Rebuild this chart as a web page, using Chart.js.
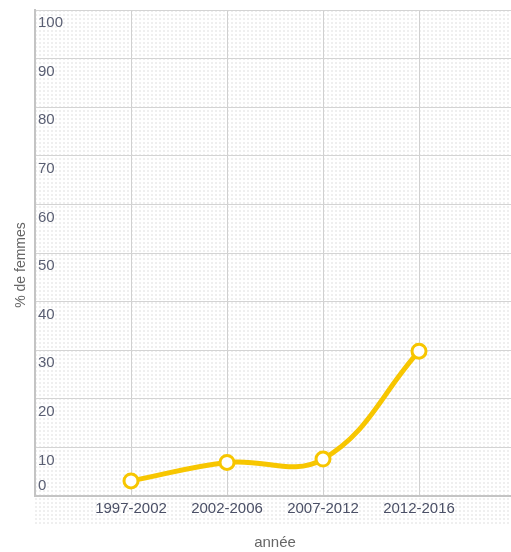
<!DOCTYPE html>
<html><head><meta charset="utf-8">
<script src="https://cdn.jsdelivr.net/npm/chart.js@4/dist/chart.umd.min.js"></script>
<style>html,body{margin:0;padding:0;background:#fff;overflow:hidden;width:511px;height:552px}#w{width:525px;height:552px}</style>
</head><body><div id="w"><canvas id="c"></canvas></div>
<script>
const categories = ['1997-2002', '2002-2006', '2007-2012', '2012-2016'];
const values = [3.1, 6.9, 7.6, 29.8];
const yTicks = [0, 10, 20, 30, 40, 50, 60, 70, 80, 90, 100];
const yTitle = '% de femmes';
const xTitle = 'année';

const FONT = "'Liberation Sans', sans-serif";

const deco = {
  id: 'deco',
  beforeDraw(chart) {
    const {ctx, chartArea: a} = chart;
    ctx.save();
    ctx.fillStyle = '#efefef';
    for (let x = a.left; x < chart.width; x += 4) {
      for (let y = a.top; y < a.bottom + 30; y += 4) {
        ctx.fillRect(x, y, 2, 2);
      }
    }
    ctx.restore();
  },
  afterDraw(chart) {
    const {ctx, chartArea: a} = chart;
    const ys = chart.scales.y;
    ctx.save();
    ctx.font = "15px " + FONT;
    ctx.fillStyle = '#5a5f73';
    ctx.textAlign = 'left';
    ctx.textBaseline = 'middle';
    yTicks.forEach(v => {
      const py = ys.getPixelForValue(v);
      const off = v === 0 ? -10 : 13;
      ctx.fillText(String(v), a.left + 3, py + off);
    });
    ctx.translate(21, 265);
    ctx.rotate(-Math.PI / 2);
    ctx.textAlign = 'center';
    ctx.font = "14px " + FONT;
    ctx.fillStyle = '#666';
    ctx.fillText(yTitle, 0, 0);
    ctx.restore();
  }
};

new Chart(document.getElementById('c'), {
  type: 'line',
  data: {
    datasets: [{
      data: values.map((v, i) => ({x: i + 1, y: v})),
      borderColor: '#f7c600',
      borderWidth: 5,
      tension: 0.4,
      pointRadius: 7,
      pointBorderWidth: 3,
      pointBackgroundColor: '#ffffff',
      pointBorderColor: '#f7c600',
      fill: false
    }]
  },
  options: {
    responsive: true,
    maintainAspectRatio: false,
    animation: false,
    layout: {padding: {left: 35, top: 8, right: 9, bottom: 0}},
    plugins: {legend: {display: false}, tooltip: {enabled: false}},
    scales: {
      x: {
        type: 'linear', min: 0, max: 5,
        afterBuildTicks(s) { s.ticks = [0, 1, 2, 3, 4, 5].map(v => ({value: v})); },
        ticks: {
          callback: v => categories[v - 1] || '',
          font: {size: 15, family: FONT}, color: '#4a4f66', padding: 4, maxRotation: 0, autoSkip: false
        },
        grid: {
          color: ctx => (ctx.tick && ctx.tick.value >= 1 && ctx.tick.value <= 4) ? '#d0d0d0' : 'rgba(0,0,0,0)',
          drawTicks: false, lineWidth: 1
        },
        border: {color: '#c4c4c4', width: 2},
        title: {display: true, text: xTitle, font: {size: 15, family: FONT}, color: '#666', padding: {top: 12, bottom: 0}}
      },
      y: {
        min: 0, max: 100,
        ticks: {display: false, stepSize: 10},
        grid: {color: '#d4d4d4', drawTicks: false, lineWidth: 1},
        border: {color: '#c4c4c4', width: 2}
      }
    }
  },
  plugins: [deco]
});
</script>
</body></html>
